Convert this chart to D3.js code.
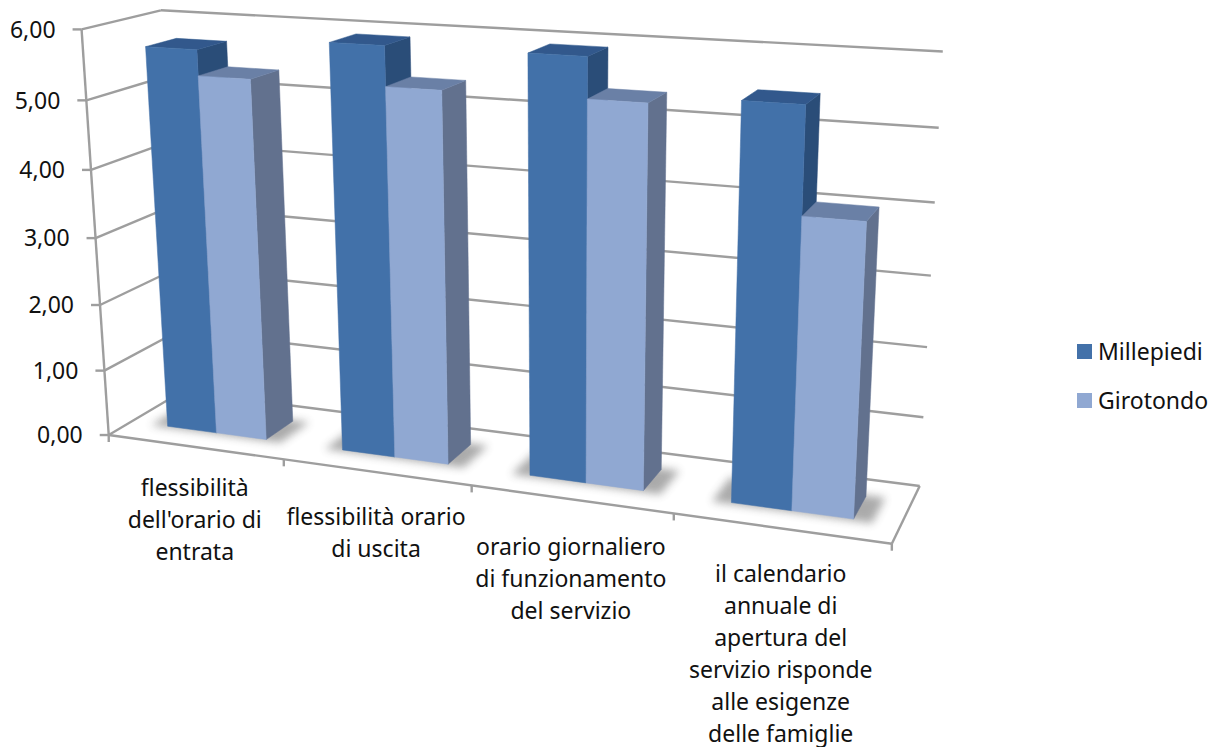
<!DOCTYPE html>
<html><head><meta charset="utf-8">
<script src="https://cdn.jsdelivr.net/npm/d3@7"></script>
<style>html,body{margin:0;background:#fff}svg{display:block}text{font-family:"Noto Sans",sans-serif;fill:#111}</style>
</head><body><svg id="c" width="1212" height="747"></svg>
<script>
const categoryLabels = [
  ["flessibilità","dell'orario di","entrata"],
  ["flessibilità orario","di uscita"],
  ["orario giornaliero","di funzionamento","del servizio"],
  ["il calendario","annuale di","apertura del","servizio risponde","alle esigenze","delle famiglie"]
];
const categories = ["flessibilità dell'orario di entrata","flessibilità orario di uscita","orario giornaliero di funzionamento del servizio","il calendario annuale di apertura del servizio risponde alle esigenze delle famiglie"];
const seriesNames = ["Millepiedi","Girotondo"];
const millepiedi = [5.70,5.91,5.92,5.47];
const girotondo = [5.33,5.35,5.36,4.03];
const yTicks = [0,1,2,3,4,5,6];
const tickLabels = ["0,00","1,00","2,00","3,00","4,00","5,00","6,00"];

// frame calibration: [u, value fraction, depth] -> page pixel
const calib = [
 [0,0,0,107,437],[.25,0,0,283,461],[.5,0,0,472,486],[.75,0,0,674,513],[1,0,0,892,541],
 [0,1,0,84,30],[0,5/6,0,88,100],[0,4/6,0,91.5,170],[0,3/6,0,95.5,237],[0,2/6,0,99,304],[0,1/6,0,103,371],
 [0,1,1,157,11],[0,0,1,186,389],
 [1,1,1,943,52],[1,5/6,1,939,127],[1,4/6,1,935,202],[1,3/6,1,931,275],[1,2/6,1,927,348],[1,1/6,1,923,419],[1,0,1,919,487]
];
function solveCamera(pts){
  const A=[],b=[];
  pts.forEach(([X,Y,Z,x,y])=>{
    A.push([X,Y,Z,1,0,0,0,0,-x*X,-x*Y,-x*Z]);b.push(x);
    A.push([0,0,0,0,X,Y,Z,1,-y*X,-y*Y,-y*Z]);b.push(y);
  });
  const n=11,M=d3.range(n).map(i=>d3.range(n+1).map(j=>{
    let s=0;A.forEach((r,k)=>{s+=r[i]*(j<n?r[j]:b[k]);});return s;}));
  for(let i=0;i<n;i++){
    let p=i;for(let r=i+1;r<n;r++)if(Math.abs(M[r][i])>Math.abs(M[p][i]))p=r;
    [M[i],M[p]]=[M[p],M[i]];
    for(let r=0;r<n;r++)if(r!==i){const f=M[r][i]/M[i][i];for(let c=i;c<=n;c++)M[r][c]-=f*M[i][c];}
  }
  return d3.range(n).map(i=>M[i][n]/M[i][i]);
}
const P=solveCamera(calib);
const project=(u,v,w)=>{
  const d=P[8]*u+P[9]*v+P[10]*w+1;
  return [(P[0]*u+P[1]*v+P[2]*w+P[3])/d,(P[4]*u+P[5]*v+P[6]*w+P[7])/d];
};

const yScale=d3.scaleLinear().domain([0,6]).range([0,1]);
const xBand=d3.scaleBand().domain(categories).range([0,1]);
const gapFrac=0.214;
const subBand=d3.scaleBand().domain(seriesNames).range([gapFrac*xBand.bandwidth(),(1-gapFrac)*xBand.bandwidth()]);
const depth=d3.scaleLinear().domain([0,1]).range([0.3,0.7]);

const svg=d3.select("#c");
const defs=svg.append("defs");
defs.append("filter").attr("id","sh").attr("x","-30%").attr("y","-60%").attr("width","160%").attr("height","220%")
  .append("feGaussianBlur").attr("stdDeviation",4.5);
const soft=defs.append("filter").attr("id","soft").attr("filterUnits","userSpaceOnUse").attr("x",0).attr("y",0).attr("width",1212).attr("height",747);
soft.append("feGaussianBlur").attr("stdDeviation",0.5);

const line=d3.line();
const gridCol="#9e9e9e";
const frame=svg.append("g").attr("fill","none").attr("stroke",gridCol).attr("stroke-width",2.4).attr("filter","url(#soft)");
const seg=(a,b)=>frame.append("path").attr("d",line([project(...a),project(...b)]));
yTicks.forEach(t=>{
  const v=yScale(t);
  seg([0,v,0],[0,v,1]);
  seg([0,v,1],[1,v,1]);
  const p=project(0,v,0);
  frame.append("path").attr("d",line([[p[0]-9,p[1]],p]));
});
seg([0,0,0],[0,1,0]);
seg([0,0,0],[1,0,0]);
seg([1,0,0],[1,0,1]);
d3.range(5).forEach(i=>{
  const p=project(i/4,0,0);
  frame.append("path").attr("d",line([p,[p[0],p[1]+7]]));
});

const colours={
  Millepiedi:{front:"#4371a9",top:"#30598c",side:"#2b4d78"},
  Girotondo:{front:"#90a8d2",top:"#6b80a6",side:"#62718e"}
};
const poly=(g,pts,fill)=>g.append("path").attr("d",line(pts)+"Z").attr("fill",fill).attr("stroke",fill).attr("stroke-width",0.5);
const shadows=svg.append("g");
const bars=svg.append("g").attr("filter","url(#soft)");
categories.forEach((cat,i)=>{
  const c0=xBand(cat);
  const uL=c0+subBand(seriesNames[0]),uR=c0+subBand(seriesNames[1])+subBand.bandwidth();
  const e=0.022;
  shadows.append("path").attr("d",line([[uL-e,depth(0)-.025],[uR+e,depth(0)-.025],[uR+e,depth(1)+.02],[uL-e,depth(1)+.02]].map(q=>project(q[0],0,q[1])))+"Z")
    .attr("fill","#444").attr("opacity",.45).attr("filter","url(#sh)");
  [millepiedi[i],girotondo[i]].forEach((val,k)=>{
    const name=seriesNames[k],col=colours[name];
    const u0=c0+subBand(name),u1=u0+subBand.bandwidth(),v=yScale(val),w0=depth(0),w1=depth(1);
    const g=bars.append("g");
    poly(g,[[u1,0,w0],[u1,0,w1],[u1,v,w1],[u1,v,w0]].map(q=>project(...q)),col.side);
    poly(g,[[u0,v,w0],[u1,v,w0],[u1,v,w1],[u0,v,w1]].map(q=>project(...q)),col.top);
    poly(g,[[u0,0,w0],[u1,0,w0],[u1,v,w0],[u0,v,w0]].map(q=>project(...q)),col.front);
  });
});

const fs=23;
yTicks.forEach((t,i)=>{
  const p=project(0,yScale(t),0);
  svg.append("text").attr("x",p[0]-26).attr("y",p[1]).attr("dy","0.36em").attr("text-anchor","end").attr("font-size",fs).text(tickLabels[i]);
});
const labelStep=32,labelOffset=[41,45,48,45];
categories.forEach((cat,i)=>{
  const p=project(xBand(cat)+xBand.bandwidth()/2,0,0);
  const t=svg.append("text").attr("text-anchor","middle").attr("font-size",fs);
  categoryLabels[i].forEach((s,j)=>t.append("tspan").attr("x",p[0]).attr("y",p[1]+labelOffset[i]+j*labelStep).attr("dy","0.36em").text(s));
});
const legendY=d3.scalePoint().domain(seriesNames).range([351.5,400.5]);
seriesNames.forEach(n=>{
  svg.append("rect").attr("x",1077).attr("y",legendY(n)-7.5).attr("width",15).attr("height",15).attr("fill",colours[n].front);
  svg.append("text").attr("x",1098).attr("y",legendY(n)).attr("dy","0.36em").attr("font-size",fs).text(n);
});
</script></body></html>
